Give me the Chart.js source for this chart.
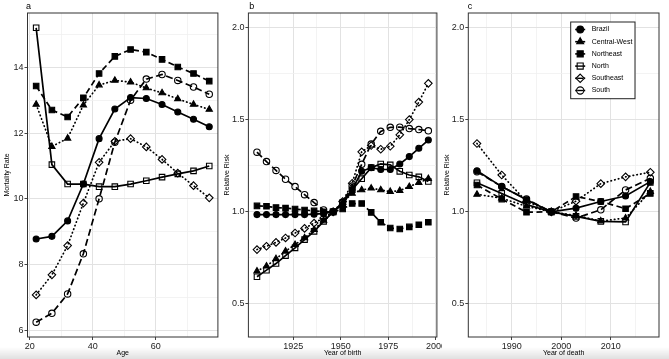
<!DOCTYPE html>
<html><head><meta charset="utf-8">
<script src="https://cdn.jsdelivr.net/npm/chart.js@4.4.1/dist/chart.umd.min.js"></script>
<style>
html,body{margin:0;padding:0;background:#fff;}
body{width:669px;height:359px;position:relative;overflow:hidden;}
canvas{position:absolute;top:0;}
#shade{position:absolute;left:0;right:0;bottom:0;height:12px;background:linear-gradient(to bottom,rgba(0,0,0,0),rgba(0,0,0,0.12));pointer-events:none;}
</style></head>
<body>
<canvas id="ca" width="223" height="359" style="left:0"></canvas>
<canvas id="cb" width="219" height="359" style="left:223px"></canvas>
<canvas id="cc" width="226" height="359" style="left:443px"></canvas>
<div id="shade"></div>
<script>
// ---------- DATA ----------
const regionNames = ['Brazil','Central-West','Northeast','North','Southeast','South'];

const ages = [22,27,32,37,42,47,52,57,62,67,72,77];
const ageBrazil = [8.78,8.86,9.33,10.45,11.83,12.73,13.08,13.05,12.87,12.64,12.42,12.19];
const ageCentralWest = [12.87,11.59,11.84,12.85,13.46,13.60,13.55,13.37,13.22,13.04,12.87,12.72];
const ageNortheast = [13.43,12.70,12.49,13.07,13.81,14.33,14.54,14.46,14.24,14.01,13.81,13.58];
const ageNorth = [15.20,11.04,10.45,10.45,10.37,10.37,10.45,10.55,10.66,10.76,10.85,11.00];
const ageSoutheast = [7.08,7.69,8.58,9.87,11.11,11.75,11.83,11.58,11.20,10.78,10.40,10.03];
const ageSouth = [6.25,6.52,7.11,8.33,10.00,11.72,13.00,13.64,13.78,13.60,13.40,13.18];

const birthYears = [1906,1911,1916,1921,1926,1931,1936,1941,1946,1951,1956,1961,1966,1971,1976,1981,1986,1991,1996];
const birthBrazil = [0.985,0.985,0.985,0.985,0.985,0.985,0.987,0.990,1.000,1.040,1.120,1.220,1.240,1.230,1.230,1.260,1.300,1.345,1.390];
const birthCentralWest = [0.678,0.705,0.745,0.786,0.822,0.858,0.903,0.953,1.000,1.050,1.100,1.119,1.128,1.119,1.110,1.115,1.137,1.158,1.180];
const birthNortheast = [1.032,1.030,1.023,1.020,1.015,1.010,1.005,1.000,1.000,1.015,1.045,1.045,0.997,0.943,0.912,0.907,0.918,0.930,0.943];
const birthNorth = [0.647,0.683,0.719,0.762,0.804,0.849,0.894,0.948,1.000,1.050,1.120,1.180,1.240,1.260,1.255,1.220,1.200,1.190,1.165];
const birthSoutheast = [0.795,0.813,0.834,0.858,0.885,0.910,0.939,0.966,1.000,1.056,1.155,1.326,1.360,1.340,1.356,1.418,1.501,1.596,1.698];
const birthSouth = [1.324,1.273,1.225,1.177,1.137,1.093,1.050,1.010,1.000,1.050,1.140,1.258,1.368,1.437,1.459,1.460,1.452,1.447,1.440];

const deathYears = [1983,1988,1993,1998,2003,2008,2013,2018];
const deathBrazil = [1.223,1.137,1.065,1.000,1.020,1.056,1.086,1.164];
const deathCentralWest = [1.095,1.074,1.030,1.000,0.980,0.950,0.966,1.110];
const deathNortheast = [1.146,1.069,0.998,1.000,1.083,1.056,1.017,1.100];
const deathNorth = [1.158,1.100,1.040,1.000,0.975,0.948,0.945,1.160];
const deathSoutheast = [1.371,1.200,1.056,1.000,1.058,1.153,1.190,1.215];
const deathSouth = [1.218,1.137,1.069,1.000,0.966,1.011,1.119,1.182];

const ageTicks = [20,40,60];
const ageMinorTicks = [30,50,70];
const mortalityTicks = [6,8,10,12,14];
const mortalityMinorTicks = [7,9,11,13,15];
const birthTicks = [1925,1950,1975,2000];
const birthMinorTicks = [1912.5,1937.5,1962.5,1987.5];
const deathTicks = [1990,2000,2010];
const deathMinorTicks = [1985,1995,2005,2015];
const riskTicks = [0.5,1.0,1.5,2.0];
const riskMinorTicks = [0.75,1.25,1.75];

// ---------- STYLE ----------
const FONT = "'Liberation Sans', Arial, Helvetica, sans-serif";
const OPEN = 'rgba(0,0,0,0)';
const regionStyle = {
  'Brazil':       {pointStyle:'circle',  fill:'#000', dash:[],      r:3.0, cap:'butt'},
  'Central-West': {pointStyle:'triangle',fill:'#000', dash:[0.5,3.3], r:3.6, cap:'round'},
  'Northeast':    {pointStyle:'rect',    fill:'#000', dash:[6,3.5],  r:3.9, cap:'butt'},
  'North':        {pointStyle:'rect',    fill:OPEN,   dash:[],      r:3.9, cap:'butt'},
  'Southeast':    {pointStyle:'rectRot', fill:OPEN,   dash:[0.5,3.3], r:3.8, cap:'round'},
  'South':        {pointStyle:'circle',  fill:OPEN,   dash:[7,3.5],  r:3.2, cap:'butt'}
};

function makeDatasets(xs, series) {
  return regionNames.map((name, k) => {
    const st = regionStyle[name];
    return {
      label: name,
      data: xs.map((x, i) => ({x: x, y: series[k][i]})),
      borderColor: '#000',
      borderWidth: 1.7,
      borderDash: st.dash,
      borderCapStyle: st.cap,
      pointStyle: st.pointStyle,
      pointRadius: st.r,
      pointBackgroundColor: st.fill,
      pointBorderColor: '#000',
      pointBorderWidth: 1.1,
      tension: 0,
      fill: false
    };
  });
}

function makeScale(axis, min, max, majors, minors, title, fmt, fixSize, titlePad) {
  const isMajor = v => majors.some(m => Math.abs(m - v) < 1e-9);
  return {
    type: 'linear', min: min, max: max, bounds: 'data',
    position: axis === 'x' ? 'bottom' : 'left',
    afterBuildTicks: s => {
      s.ticks = majors.concat(minors).filter(v => v >= min && v <= max)
        .sort((a, b) => a - b).map(v => ({value: v}));
    },
    ticks: {
      autoSkip: false, maxRotation: 0, padding: 1, color: '#222',
      font: {family: FONT, size: 9},
      callback: v => isMajor(v) ? fmt(v) : ''
    },
    grid: {
      color: c => (c.tick && isMajor(c.tick.value)) ? '#e2e2e2' : '#f0f0f0',
      lineWidth: c => (c.tick && isMajor(c.tick.value)) ? 1 : 0.8,
      tickLength: 3,
      tickColor: c => (c.tick && isMajor(c.tick.value)) ? '#444' : OPEN
    },
    border: {display: false},
    title: {display: true, text: title, color: '#000', font: {family: FONT, size: 7}, padding: titlePad},
    afterFit: s => {
      if (axis === 'x') s.height = fixSize; else s.width = fixSize;
      s.paddingLeft = 0; s.paddingRight = 0; s.paddingTop = 0; s.paddingBottom = 0;
    }
  };
}

const framePlugin = {
  id: 'frame',
  afterDraw(chart, args, opts) {
    const {ctx, chartArea: a} = chart;
    ctx.save();
    ctx.strokeStyle = '#333';
    ctx.lineWidth = 1;
    ctx.strokeRect(a.left, a.top, a.right - a.left, a.bottom - a.top);
    ctx.fillStyle = '#000';
    ctx.font = '9px ' + FONT;
    ctx.textBaseline = 'alphabetic';
    ctx.fillText(opts.letter, opts.lx, opts.ly);
    ctx.restore();
  }
};

function drawMarker(ctx, style, r, x, y, fill) {
  ctx.beginPath();
  if (style === 'circle') {
    ctx.arc(x, y, r, 0, Math.PI * 2);
  } else if (style === 'triangle') {
    ctx.moveTo(x, y - r);
    ctx.lineTo(x + r * 0.866, y + r * 0.5);
    ctx.lineTo(x - r * 0.866, y + r * 0.5);
    ctx.closePath();
  } else if (style === 'rect') {
    const s = r * Math.SQRT1_2;
    ctx.rect(x - s, y - s, 2 * s, 2 * s);
  } else if (style === 'rectRot') {
    ctx.moveTo(x, y - r); ctx.lineTo(x + r, y); ctx.lineTo(x, y + r); ctx.lineTo(x - r, y); ctx.closePath();
  }
  ctx.fillStyle = fill;
  ctx.fill();
  ctx.stroke();
}

const insetLegend = {
  id: 'insetLegend',
  afterDraw(chart, args, opts) {
    const ctx = chart.ctx;
    ctx.save();
    ctx.fillStyle = '#fff';
    ctx.fillRect(opts.x, opts.y, opts.w, opts.h);
    ctx.strokeStyle = '#222';
    ctx.lineWidth = 1;
    ctx.strokeRect(opts.x, opts.y, opts.w, opts.h);
    chart.data.datasets.forEach((ds, i) => {
      const cy = opts.y + 7.5 + i * 12.2;
      const mx = opts.x + 9.5;
      ctx.strokeStyle = '#000';
      ctx.lineWidth = 1.6;
      ctx.setLineDash([]);
      ctx.beginPath(); ctx.moveTo(mx - 5, cy); ctx.lineTo(mx + 5, cy); ctx.stroke();
      ctx.lineWidth = 1.1;
      drawMarker(ctx, ds.pointStyle, ds.pointRadius + 0.4, mx, cy, ds.pointBackgroundColor === OPEN ? '#fff' : '#000');
      if (ds.pointBackgroundColor === OPEN) {
        ctx.lineWidth = 1.4;
        ctx.beginPath(); ctx.moveTo(mx - 3, cy); ctx.lineTo(mx + 3, cy); ctx.stroke();
      }
      ctx.fillStyle = '#000';
      ctx.font = '7px ' + FONT;
      ctx.textBaseline = 'middle';
      ctx.fillText(ds.label, opts.x + 21, cy);
    });
    ctx.restore();
  }
};

function baseOptions(padRight, letterX, extra) {
  return {
    responsive: false, animation: false, devicePixelRatio: 1,
    layout: {padding: {left: 0, right: padRight, top: 13, bottom: 0}},
    plugins: Object.assign({
      legend: {display: false}, tooltip: {enabled: false},
      frame: {letter: '', lx: letterX, ly: 9}
    }, extra || {})
  };
}

// Panel a
{
  const opts = baseOptions(4, 26);
  opts.plugins.frame.letter = 'a';
  opts.scales = {
    x: makeScale('x', 19.25, 79.75, ageTicks, ageMinorTicks, 'Age', v => String(v), 22, {top: 0, bottom: 2.1}),
    y: makeScale('y', 5.80, 15.65, mortalityTicks, mortalityMinorTicks, 'Mortality Rate', v => String(v), 27.5, {top: 2.5, bottom: 0})
  };
  new Chart(document.getElementById('ca'), {
    type: 'line',
    data: {datasets: makeDatasets(ages, [ageBrazil, ageCentralWest, ageNortheast, ageNorth, ageSoutheast, ageSouth])},
    options: opts,
    plugins: [framePlugin]
  });
}
// Panel b
{
  const opts = baseOptions(2, 26.3);
  opts.plugins.frame.letter = 'b';
  opts.scales = {
    x: makeScale('x', 1901.5, 2000.5, birthTicks, birthMinorTicks, 'Year of birth', v => String(v), 22, {top: 0, bottom: 2.1}),
    y: makeScale('y', 0.32, 2.08, riskTicks, riskMinorTicks, 'Relative Risk', v => v.toFixed(1), 25.4, {top: 0, bottom: 0})
  };
  new Chart(document.getElementById('cb'), {
    type: 'line',
    data: {datasets: makeDatasets(birthYears, [birthBrazil, birthCentralWest, birthNortheast, birthNorth, birthSoutheast, birthSouth])},
    options: opts,
    plugins: [framePlugin]
  });
}
// Panel c
{
  const opts = baseOptions(10, 24.7, {insetLegend: {x: 127.7, y: 22, w: 64.3, h: 76.7}});
  opts.plugins.frame.letter = 'c';
  opts.scales = {
    x: makeScale('x', 1981.25, 2019.75, deathTicks, deathMinorTicks, 'Year of death', v => String(v), 22, {top: 0, bottom: 2.1}),
    y: makeScale('y', 0.32, 2.08, riskTicks, riskMinorTicks, 'Relative Risk', v => v.toFixed(1), 25.3, {top: 0, bottom: 0})
  };
  new Chart(document.getElementById('cc'), {
    type: 'line',
    data: {datasets: makeDatasets(deathYears, [deathBrazil, deathCentralWest, deathNortheast, deathNorth, deathSoutheast, deathSouth])},
    options: opts,
    plugins: [framePlugin, insetLegend]
  });
}
</script>
</body></html>
